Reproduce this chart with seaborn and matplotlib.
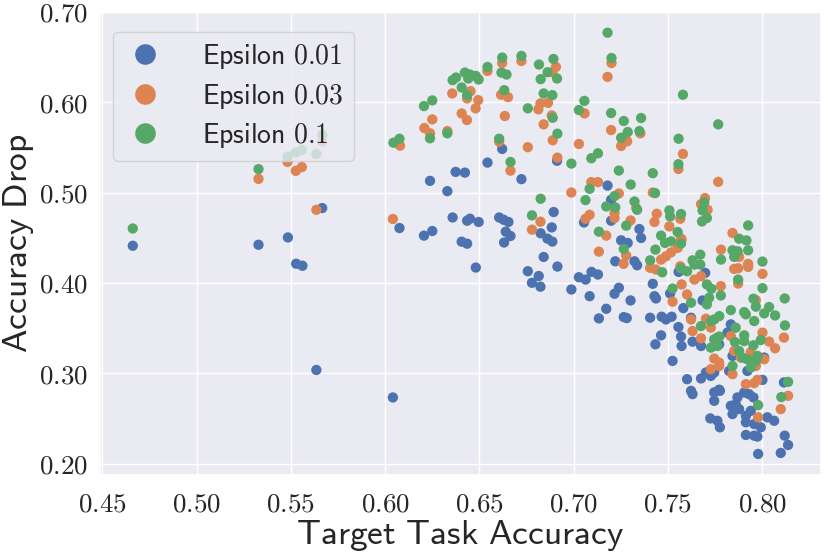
import numpy as np
import pandas as pd
import matplotlib
matplotlib.use("Agg")
import matplotlib.pyplot as plt
from matplotlib.ticker import FuncFormatter
import seaborn as sns

labels = ["Epsilon 0.01", "Epsilon 0.03", "Epsilon 0.1"]

x_e001 = [0.4661, 0.5328, 0.5484, 0.5528, 0.5561, 0.5666, 0.5635, 0.6041, 0.6238, 0.6330,
          0.6374, 0.6423, 0.6543, 0.6621, 0.6723, 0.6912, 0.6894, 0.6884, 0.6076, 0.6206,
          0.6250, 0.6358, 0.6435, 0.6450, 0.6496, 0.6605, 0.6629, 0.6654, 0.6825, 0.6406,
          0.6435, 0.6481, 0.6640, 0.6665, 0.6631, 0.6861, 0.6887, 0.6841, 0.6914, 0.6757,
          0.6815, 0.6779, 0.6824, 0.6988, 0.7028, 0.7180, 0.7199, 0.7055, 0.7199, 0.7349,
          0.7358, 0.7252, 0.7287, 0.7221, 0.7323, 0.7337, 0.7064, 0.7095, 0.7129, 0.7085,
          0.7217, 0.7240, 0.7302, 0.7420, 0.7429, 0.7437, 0.7173, 0.7134, 0.7266, 0.7282,
          0.7406, 0.7467, 0.7490, 0.7520, 0.7512, 0.7582, 0.7556, 0.7464, 0.7434, 0.7570,
          0.7573, 0.7525, 0.7631, 0.7676, 0.7557, 0.7602, 0.7623, 0.7631, 0.7676, 0.7702,
          0.7728, 0.7746, 0.7746, 0.7776, 0.7725, 0.7763, 0.7776, 0.7623, 0.7684, 0.7698,
          0.8011, 0.8002, 0.8116, 0.7869, 0.7905, 0.7931, 0.7954, 0.7860, 0.7834, 0.7843,
          0.7878, 0.7914, 0.7940, 0.7914, 0.7958, 0.7993, 0.8028, 0.8064, 0.7914, 0.7958,
          0.7975, 0.8120, 0.8138, 0.8099, 0.7979, 0.7834, 0.7816, 0.7843, 0.7825, 0.7746,
          0.7922, 0.7772, 0.7772]
y_e001 = [0.4411, 0.4422, 0.4503, 0.4212, 0.4190, 0.4828, 0.3037, 0.2733, 0.5129, 0.5015,
          0.5228, 0.5220, 0.5331, 0.5482, 0.5148, 0.5351, 0.4784, 0.4614, 0.4607, 0.4523,
          0.4574, 0.4724, 0.4688, 0.4710, 0.4674, 0.4724, 0.4698, 0.4674, 0.4549, 0.4456,
          0.4434, 0.4170, 0.4567, 0.4519, 0.4447, 0.4490, 0.4457, 0.4287, 0.4181, 0.4129,
          0.4076, 0.4001, 0.3958, 0.3927, 0.4063, 0.5077, 0.4919, 0.4669, 0.4688, 0.4596,
          0.4497, 0.4471, 0.4442, 0.4239, 0.4239, 0.4195, 0.4037, 0.4122, 0.4093, 0.3853,
          0.3880, 0.3946, 0.3806, 0.3990, 0.3853, 0.3828, 0.3714, 0.3607, 0.3622, 0.3611,
          0.3615, 0.3626, 0.3596, 0.3626, 0.3883, 0.3721, 0.3512, 0.3420, 0.3321, 0.3406,
          0.3302, 0.3137, 0.3350, 0.3302, 0.4122, 0.2935, 0.2806, 0.2770, 0.2943, 0.3009,
          0.2971, 0.2789, 0.2696, 0.2806, 0.2501, 0.2475, 0.2402, 0.3615, 0.3806, 0.4111,
          0.3174, 0.2927, 0.2899, 0.2733, 0.2788, 0.2769, 0.2733, 0.2659, 0.2640, 0.2549,
          0.2604, 0.2530, 0.2585, 0.2458, 0.2439, 0.2402, 0.2513, 0.2475, 0.2318, 0.2310,
          0.2300, 0.2310, 0.2207, 0.2119, 0.2108, 0.3541, 0.3450, 0.3192, 0.3026, 0.3009,
          0.3026, 0.3321, 0.2819]

x_e003 = [0.5328, 0.5482, 0.5526, 0.5558, 0.5635, 0.5666, 0.6079, 0.6041, 0.6208, 0.6250,
          0.6238, 0.6330, 0.6356, 0.6406, 0.6434, 0.6435, 0.6453, 0.6494, 0.6480, 0.6543,
          0.6621, 0.6615, 0.6652, 0.6635, 0.6605, 0.6665, 0.6723, 0.6757, 0.6906, 0.6888,
          0.6824, 0.6864, 0.6813, 0.6884, 0.6841, 0.6889, 0.6914, 0.7028, 0.6988, 0.6824,
          0.6779, 0.7201, 0.7180, 0.7058, 0.7199, 0.7354, 0.7284, 0.7252, 0.7580, 0.7556,
          0.7767, 0.7094, 0.7129, 0.7240, 0.7420, 0.7697, 0.7676, 0.7711, 0.7217, 0.7217,
          0.7085, 0.7063, 0.7332, 0.7441, 0.7429, 0.7302, 0.7566, 0.7508, 0.7173, 0.7570,
          0.7134, 0.7265, 0.7279, 0.7406, 0.7437, 0.7464, 0.7490, 0.7517, 0.7552, 0.7573,
          0.7573, 0.7525, 0.7602, 0.7566, 0.7623, 0.7631, 0.7676, 0.7641, 0.7676, 0.7702,
          0.7728, 0.7728, 0.7746, 0.7773, 0.7782, 0.7843, 0.7878, 0.7852, 0.7873, 0.7926,
          0.7926, 0.8002, 0.7873, 0.7781, 0.7967, 0.8116, 0.8069, 0.8002, 0.8037, 0.8011,
          0.7834, 0.7852, 0.7887, 0.7940, 0.7967, 0.7772, 0.7843, 0.7914, 0.7958, 0.7975,
          0.8138, 0.8099, 0.7979]
y_e003 = [0.5151, 0.5339, 0.5240, 0.5281, 0.4809, 0.5564, 0.5518, 0.4707, 0.5713, 0.5809,
          0.5655, 0.5680, 0.6096, 0.5875, 0.5802, 0.6041, 0.6121, 0.6022, 0.5931, 0.6345,
          0.6433, 0.6081, 0.6055, 0.5846, 0.5562, 0.5242, 0.6455, 0.5501, 0.6389, 0.6331,
          0.5986, 0.5992, 0.5920, 0.5853, 0.5754, 0.5578, 0.5386, 0.5537, 0.5000, 0.4677,
          0.4589, 0.6433, 0.6279, 0.5875, 0.5691, 0.5655, 0.5567, 0.5515, 0.5427, 0.5261,
          0.5118, 0.5115, 0.5115, 0.4989, 0.5000, 0.4938, 0.4872, 0.4809, 0.4773, 0.4718,
          0.4754, 0.4710, 0.4828, 0.4765, 0.4674, 0.4691, 0.4710, 0.4625, 0.4523, 0.4490,
          0.4346, 0.4211, 0.4302, 0.4167, 0.4148, 0.4258, 0.4294, 0.4338, 0.4387, 0.4478,
          0.3983, 0.3792, 0.3872, 0.4184, 0.3596, 0.3467, 0.3387, 0.4037, 0.4074, 0.3604,
          0.3505, 0.3045, 0.3163, 0.3082, 0.4368, 0.4552, 0.4288, 0.4155, 0.4162, 0.4211,
          0.4177, 0.4100, 0.3993, 0.3964, 0.3809, 0.3395, 0.3277, 0.3450, 0.3351, 0.3155,
          0.3412, 0.3247, 0.3174, 0.3236, 0.3082, 0.3119, 0.2990, 0.2880, 0.2891, 0.2927,
          0.2751, 0.2604, 0.2513]

x_e01 = [0.4661, 0.5328, 0.5482, 0.5526, 0.5558, 0.5635, 0.5666, 0.6044, 0.6076, 0.6206,
         0.6250, 0.6238, 0.6330, 0.6358, 0.6376, 0.6423, 0.6406, 0.6441, 0.6450, 0.6481,
         0.6496, 0.6435, 0.6543, 0.6621, 0.6617, 0.6644, 0.6632, 0.6605, 0.6665, 0.6723,
         0.6757, 0.6816, 0.6862, 0.6825, 0.6893, 0.6912, 0.6841, 0.6887, 0.6889, 0.6914,
         0.6988, 0.7028, 0.6825, 0.6779, 0.7180, 0.7201, 0.7057, 0.7199, 0.7266, 0.7358,
         0.7287, 0.7252, 0.7349, 0.7580, 0.7767, 0.7557, 0.7556, 0.7129, 0.7094, 0.7240,
         0.7420, 0.7303, 0.7085, 0.7063, 0.7217, 0.7173, 0.7221, 0.7432, 0.7323, 0.7337,
         0.7508, 0.7512, 0.7570, 0.7693, 0.7684, 0.7707, 0.7681, 0.7279, 0.7134, 0.7552,
         0.7464, 0.7266, 0.7434, 0.7406, 0.7470, 0.7485, 0.7517, 0.7570, 0.7525, 0.7623,
         0.7570, 0.7602, 0.7631, 0.7641, 0.7672, 0.7672, 0.7676, 0.7707, 0.7731, 0.7719,
         0.7707, 0.7728, 0.7746, 0.7773, 0.7782, 0.7728, 0.7746, 0.7773, 0.7926, 0.7878,
         0.7917, 0.7843, 0.7870, 0.7852, 0.7926, 0.8002, 0.7873, 0.8002, 0.8120, 0.7781,
         0.7954, 0.7967, 0.8037, 0.8011, 0.8069, 0.7834, 0.7905, 0.8121, 0.7958, 0.7914,
         0.7860, 0.7993, 0.7954, 0.7905, 0.7905, 0.7856, 0.7878, 0.7896, 0.7922, 0.7975,
         0.7967, 0.7940, 0.7843, 0.7763, 0.7763, 0.8138, 0.8102, 0.7979]
y_e01 = [0.4602, 0.5259, 0.5398, 0.5442, 0.5472, 0.5425, 0.5637, 0.5551, 0.5595, 0.5956,
         0.6019, 0.5600, 0.5655, 0.6243, 0.6272, 0.6327, 0.6162, 0.6261, 0.6305, 0.6290,
         0.6250, 0.6077, 0.6389, 0.6493, 0.6327, 0.6305, 0.6132, 0.5595, 0.5338, 0.6511,
         0.5931, 0.6416, 0.6331, 0.6254, 0.6477, 0.6261, 0.6096, 0.6077, 0.5827, 0.5651,
         0.5320, 0.5912, 0.4931, 0.4747, 0.6768, 0.6488, 0.6014, 0.5879, 0.5791, 0.5824,
         0.5669, 0.5606, 0.5680, 0.6081, 0.5754, 0.5595, 0.5313, 0.5434, 0.5379, 0.5243,
         0.5214, 0.5088, 0.5041, 0.4916, 0.4960, 0.4846, 0.4835, 0.4993, 0.4901, 0.4809,
         0.4802, 0.4735, 0.4762, 0.4890, 0.4802, 0.4718, 0.4680, 0.4633, 0.4567, 0.4563,
         0.4523, 0.4376, 0.4368, 0.4250, 0.4118, 0.4442, 0.4460, 0.4436, 0.3938, 0.3781,
         0.4159, 0.4129, 0.4250, 0.4203, 0.4313, 0.4203, 0.3523, 0.3983, 0.3935, 0.3836,
         0.3762, 0.3578, 0.3596, 0.3633, 0.4258, 0.3284, 0.3376, 0.3406, 0.4636, 0.4489,
         0.4470, 0.4361, 0.4350, 0.4288, 0.4361, 0.4236, 0.4037, 0.3942, 0.3828, 0.3861,
         0.3825, 0.3737, 0.3733, 0.3663, 0.3640, 0.3699, 0.3677, 0.3530, 0.3578, 0.3652,
         0.3505, 0.3368, 0.3310, 0.3420, 0.3357, 0.3346, 0.3247, 0.3174, 0.3155, 0.3192,
         0.3137, 0.3064, 0.3082, 0.3395, 0.3302, 0.2905, 0.2737, 0.2648]

df = pd.concat([
    pd.DataFrame({"x": x_e001, "y": y_e001, "eps": labels[0]}),
    pd.DataFrame({"x": x_e003, "y": y_e003, "eps": labels[1]}),
    pd.DataFrame({"x": x_e01, "y": y_e01, "eps": labels[2]}),
], ignore_index=True)

sns.set_theme(style="darkgrid")
plt.rcParams["mathtext.fontset"] = "cm"

fig, ax = plt.subplots(figsize=(8.3, 5.54), dpi=100)
fig.subplots_adjust(left=0.1205, right=0.989, bottom=0.1426, top=0.979)

sns.scatterplot(data=df, x="x", y="y", hue="eps", hue_order=labels,
                palette="deep", s=55, linewidth=0, ax=ax, legend=True)

ax.set_xticks([0.45, 0.50, 0.55, 0.60, 0.65, 0.70, 0.75, 0.80])
ax.set_yticks([0.20, 0.30, 0.40, 0.50, 0.60, 0.70])
fmt = FuncFormatter(lambda v, p: r"$%.2f$" % v)
ax.xaxis.set_major_formatter(fmt)
ax.yaxis.set_major_formatter(fmt)
ax.tick_params(axis="both", labelsize=19.5, colors="0.15")
ax.tick_params(axis="x", pad=6)
ax.tick_params(axis="y", pad=3)

ax.set_xlabel(r"$\mathsf{Target\ Task\ Accuracy}$", fontsize=25.5, color="0.15", labelpad=0)
ax.set_ylabel(r"$\mathsf{Accuracy\ Drop}$", fontsize=25.5, color="0.15", labelpad=2)

handles, lbls = ax.get_legend_handles_labels()
leg = ax.legend(handles, [r"$\mathsf{%s}$" % l.replace(" ", r"\ ") for l in lbls],
                loc="upper left", fontsize=20, markerscale=2.0,
                handlelength=1.6, handletextpad=1.25, borderpad=0.38,
                labelspacing=0.38, bbox_to_anchor=(0.006, 0.975), borderaxespad=0.3)

fig.savefig("out.png", dpi=100)
